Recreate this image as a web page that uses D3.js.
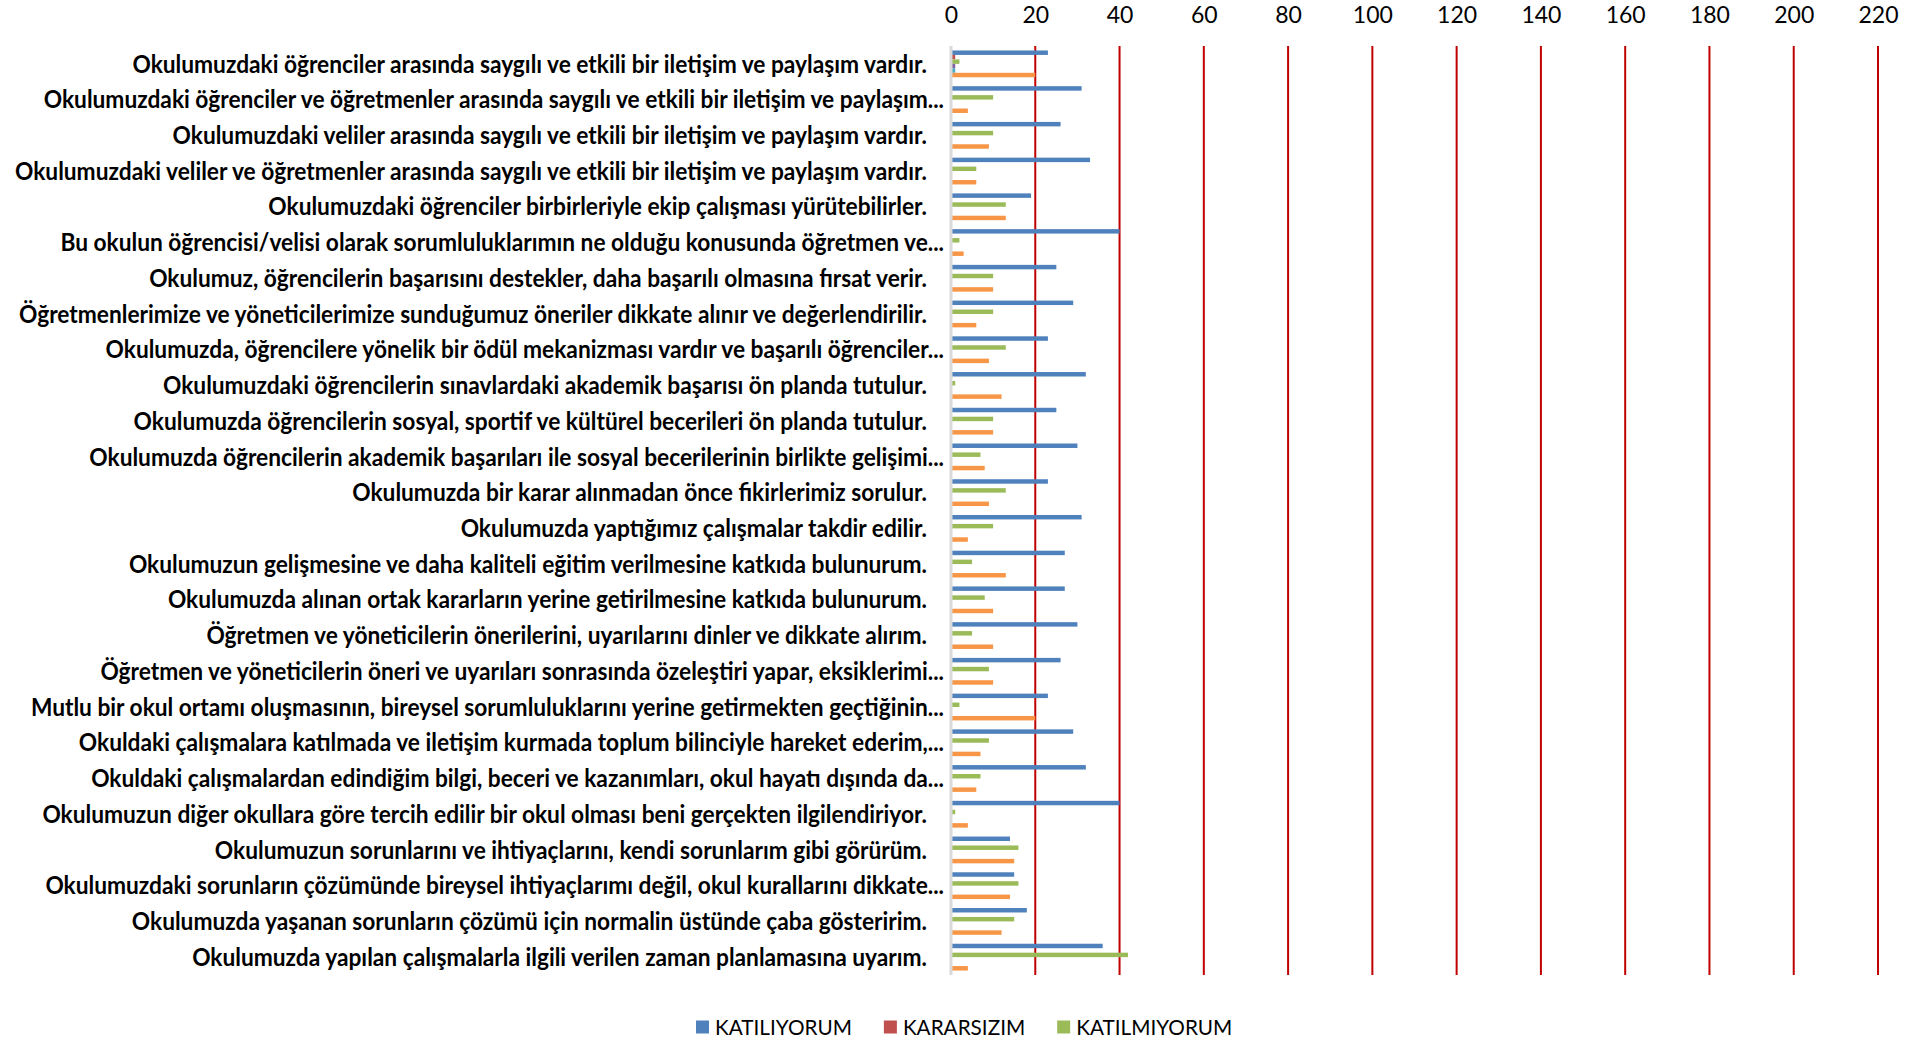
<!DOCTYPE html>
<html>
<head>
<meta charset="utf-8">
<script src="https://cdn.jsdelivr.net/npm/d3@7"></script>
<style>
  html, body { margin: 0; padding: 0; background: #fff; }
  svg { display: block; }
</style>
</head>
<body>
<svg id="chart" width="1917" height="1042"></svg>
<script>
const categories = [
  "Okulumuzdaki öğrenciler arasında saygılı ve etkili bir iletişim ve paylaşım vardır.",
  "Okulumuzdaki öğrenciler ve öğretmenler arasında saygılı ve etkili bir iletişim ve paylaşım...",
  "Okulumuzdaki veliler arasında saygılı ve etkili bir iletişim ve paylaşım vardır.",
  "Okulumuzdaki veliler ve öğretmenler arasında saygılı ve etkili bir iletişim ve paylaşım vardır.",
  "Okulumuzdaki öğrenciler birbirleriyle ekip çalışması yürütebilirler.",
  "Bu okulun öğrencisi/velisi olarak sorumluluklarımın ne olduğu konusunda öğretmen ve...",
  "Okulumuz, öğrencilerin başarısını destekler, daha başarılı olmasına fırsat verir.",
  "Öğretmenlerimize ve yöneticilerimize sunduğumuz öneriler dikkate alınır ve değerlendirilir.",
  "Okulumuzda, öğrencilere yönelik bir ödül mekanizması vardır ve başarılı öğrenciler...",
  "Okulumuzdaki öğrencilerin sınavlardaki akademik başarısı ön planda tutulur.",
  "Okulumuzda öğrencilerin sosyal, sportif ve kültürel becerileri ön planda tutulur.",
  "Okulumuzda öğrencilerin akademik başarıları ile sosyal becerilerinin birlikte gelişimi...",
  "Okulumuzda bir karar alınmadan önce fikirlerimiz sorulur.",
  "Okulumuzda yaptığımız çalışmalar takdir edilir.",
  "Okulumuzun gelişmesine ve daha kaliteli eğitim verilmesine katkıda bulunurum.",
  "Okulumuzda alınan ortak kararların yerine getirilmesine katkıda bulunurum.",
  "Öğretmen ve yöneticilerin önerilerini, uyarılarını dinler ve dikkate alırım.",
  "Öğretmen ve yöneticilerin öneri ve uyarıları sonrasında özeleştiri yapar, eksiklerimi...",
  "Mutlu bir okul ortamı oluşmasının, bireysel sorumluluklarını yerine getirmekten geçtiğinin...",
  "Okuldaki çalışmalara katılmada ve iletişim kurmada toplum bilinciyle hareket ederim,...",
  "Okuldaki çalışmalardan edindiğim bilgi, beceri ve kazanımları, okul hayatı dışında da...",
  "Okulumuzun diğer okullara göre tercih edilir bir okul olması beni gerçekten ilgilendiriyor.",
  "Okulumuzun sorunlarını ve ihtiyaçlarını, kendi sorunlarım gibi görürüm.",
  "Okulumuzdaki sorunların çözümünde bireysel ihtiyaçlarımı değil, okul kurallarını dikkate...",
  "Okulumuzda yaşanan sorunların çözümü için normalin üstünde çaba gösteririm.",
  "Okulumuzda yapılan çalışmalarla ilgili verilen zaman planlamasına uyarım."
];

const seriesNames = ["KATILIYORUM", "KARARSIZIM", "KATILMIYORUM", "Seri 4", "Seri 5", "Seri 6"];
const legendNames = ["KATILIYORUM", "KARARSIZIM", "KATILMIYORUM"];

const katiliyorum  = [23,31,26,33,19,40,25,29,23,32,25,30,23,31,27,27,30,26,23,29,32,40,14,15,18,36];
const kararsizim   = [1,0,0,0,0,0,0,0,0,0,0,0,0,0,0,0,0,0,0,0,0,0,0,0,0,0];
const katilmiyorum = [2,10,10,6,13,2,10,10,13,1,10,7,13,10,5,8,5,9,2,9,7,1,16,16,15,42];
const seri4        = [1,0,0,0,0,0,0,0,0,0,0,0,0,0,0,0,0,0,0,0,0,0,0,0,0,0];
const seri5        = [1,0,0,0,0,0,0,0,0,0,0,0,0,0,0,0,0,0,0,0,0,0,0,0,0,0];
const seri6        = [20,4,9,6,13,3,10,6,9,12,10,8,9,4,13,10,10,10,20,7,6,4,15,14,12,4];

const tickValues = [0,20,40,60,80,100,120,140,160,180,200,220];

const seriesValues = [katiliyorum, kararsizim, katilmiyorum, seri4, seri5, seri6];
const colors = ["#4F81BD", "#C0504D", "#9BBB59", "#8064A2", "#4BACC6", "#F79646"];

const svg = d3.select("#chart");
const plot = { left: 951, right: 1878, top: 46, bottom: 975 };

const x = d3.scaleLinear().domain([0, 220]).range([plot.left, plot.right]);
const y = d3.scaleBand().domain(d3.range(categories.length)).range([plot.top, plot.bottom]).padding(0);
const ys = d3.scaleBand().domain(d3.range(seriesNames.length)).range([0, y.bandwidth()]).paddingInner(0).paddingOuter(1);

const fontFamily = "Lato, 'Liberation Sans', 'DejaVu Sans', sans-serif";

// gridlines
svg.append("g").selectAll("line")
  .data(tickValues.filter(d => d > 0))
  .join("line")
  .attr("x1", d => x(d)).attr("x2", d => x(d))
  .attr("y1", plot.top).attr("y2", plot.bottom)
  .attr("stroke", "#C00000").attr("stroke-width", 2);

// top axis
const xAxis = d3.axisTop(x).tickValues(tickValues).tickSize(0).tickPadding(0);
const gx = svg.append("g").attr("transform", `translate(0, 23)`).call(xAxis);
gx.select(".domain").remove();
gx.selectAll("text")
  .attr("font-family", fontFamily)
  .attr("font-size", 23)
  .attr("fill", "#000")
  .attr("dy", 0);

// bars
const data = [];
categories.forEach((c, i) => {
  seriesValues.forEach((arr, s) => {
    data.push({ i, s, v: arr[i] });
  });
});
svg.append("g").selectAll("rect")
  .data(data.filter(d => d.v > 0))
  .join("rect")
  .attr("x", x(0))
  .attr("y", d => y(d.i) + ys(d.s))
  .attr("width", d => x(d.v) - x(0))
  .attr("height", ys.bandwidth())
  .attr("fill", d => colors[d.s]);

// left axis line
svg.append("line")
  .attr("x1", plot.left).attr("x2", plot.left)
  .attr("y1", plot.top).attr("y2", plot.bottom)
  .attr("stroke", "#D9D9D9").attr("stroke-width", 3);

// category labels
const labelSize = 24;
const probe = svg.append("text").attr("font-family", fontFamily).attr("font-weight", "bold")
  .attr("font-size", labelSize).text(categories[0]);
const probeW = probe.node().getComputedTextLength();
probe.remove();
const sx = Math.min(1.2, 795 / probeW);

svg.append("g").selectAll("text")
  .data(categories)
  .join("text")
  .attr("transform", (d, i) => {
    const xr = d.endsWith("...") ? 944 : 927;
    return `translate(${xr}, ${y(i) + y.bandwidth() / 2}) scale(${sx}, 1)`;
  })
  .attr("text-anchor", "end")
  .attr("dy", "0.36em")
  .attr("font-family", fontFamily)
  .attr("font-weight", "bold")
  .attr("font-size", labelSize)
  .attr("fill", "#000")
  .text(d => d);

// legend
const legendY = 1027;
const legendSize = 22;
const lp = svg.append("text").attr("font-family", fontFamily).attr("font-size", legendSize).text(legendNames[0]);
const lpw = lp.node().getComputedTextLength();
lp.remove();
const lsx = Math.min(1.2, 137 / lpw);
let lx = 696;
legendNames.forEach((name, k) => {
  const g = svg.append("g");
  g.append("rect").attr("x", lx).attr("y", legendY - 6.5).attr("width", 13).attr("height", 13).attr("fill", colors[k]);
  const t = g.append("text")
    .attr("transform", `translate(${lx + 19}, ${legendY}) scale(${lsx}, 1)`)
    .attr("dy", "0.36em")
    .attr("font-family", fontFamily)
    .attr("font-size", legendSize)
    .attr("fill", "#000")
    .text(name);
  const w = t.node().getComputedTextLength() * lsx;
  lx = lx + 19 + w + 32;
});
</script>
</body>
</html>
